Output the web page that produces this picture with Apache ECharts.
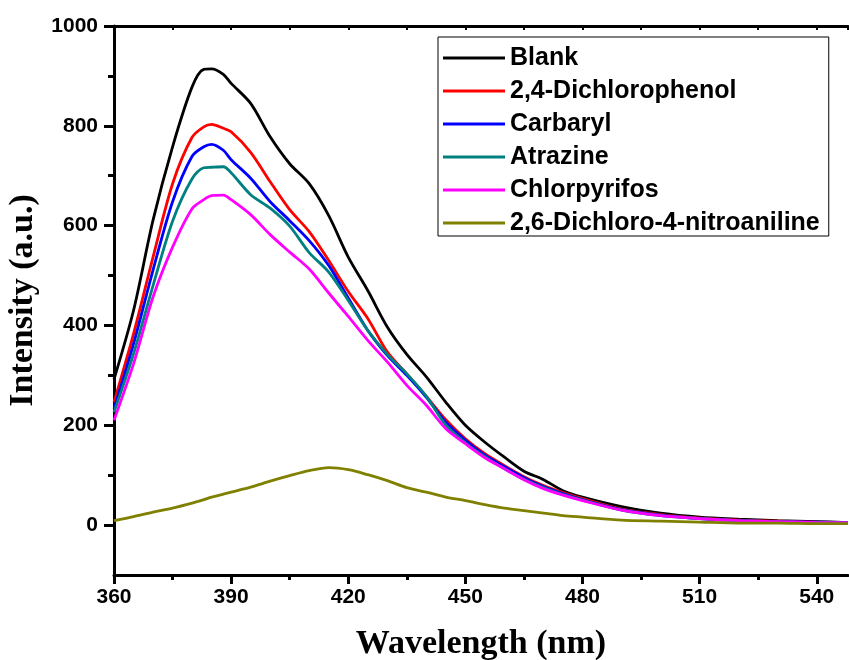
<!DOCTYPE html>
<html><head><meta charset="utf-8">
<script src="https://cdn.jsdelivr.net/npm/echarts@6/dist/echarts.min.js"></script>
<style>html,body{margin:0;padding:0;background:#fff}#c{width:849px;height:660px}</style>
</head><body><div id="c"></div>
<script>
const wavelength = [360,365,370,375,380,383,385,388,390,395,400,405,410,415,420,425,430,435,440,445,450,455,460,465,470,475,480,490,500,510,520,530,540,548];
const blank = [292,430,611,758,878,913,914,903,885,845,778,724,684,620,537,470,397,342,297,246,200,166,136,108,91,69,56,37,24,16,12,9,7,5];
const dichlorophenol = [246,383,537,684,777,798,803,795,788,747,688,632,588,530,468,414,347,303,258,211,173,143,119,97,79,65,53,32,21,14,10,8,6,5];
const carbaryl = [233,363,511,648,739,758,763,751,732,695,648,610,570,520,455,390,340,300,256,206,170,140,117,95,77,63,51,31,20,13,9,7,6,5];
const atrazine = [226,343,480,609,694,716,717,718,706,662,635,599,546,507,450,390,342,303,258,200,165,137,113,92,75,61,50,30,19,13,9,7,5,5];
const chlorpyrifos = [210,323,457,557,634,652,660,661,652,622,582,547,513,465,418,370,327,280,240,193,163,135,113,91,73,60,49,30,19,13,9,7,5,5];
const nitroaniline = [9,17,26,34,44,51,56,62,66,76,88,99,109,115,111,101,89,75,66,56,49,41,34,29,24,19,16,10,8,6,4,4,3,3];

const seriesNames = ['Blank','2,4-Dichlorophenol','Carbaryl','Atrazine','Chlorpyrifos','2,6-Dichloro-4-nitroaniline'];
const seriesValues = [blank, dichlorophenol, carbaryl, atrazine, chlorpyrifos, nitroaniline];
const seriesColors = ['#000000','#ff0000','#0000ff','#008080','#ff00ff','#808000'];

const xMajorTicks = [360,390,420,450,480,510,540];
const xMinorTicks = [375,405,435,465,495,525];
const yMajorTicks = [0,200,400,600,800,1000];
const yMinorTicks = [100,300,500,700,900];

const tickFont = {fontFamily:'Liberation Sans, Arial, sans-serif', fontWeight:'bold', fontSize:21, color:'#000'};
const titleFont = {fontFamily:'Liberation Serif, Times New Roman, serif', fontWeight:'bold', fontSize:34, color:'#000'};
const blackLine = {color:'#000', width:3};
const plain = v => String(v);

const chart = echarts.init(document.getElementById('c'), null, {renderer:'canvas'});
chart.setOption({
  animation:false,
  backgroundColor:'#fff',
  grid:{left:114, right:1, top:26, bottom:85, containLabel:false, outerBoundsMode:'none'},
  legend:{
    orient:'vertical', left:438, top:37,
    icon:'rect', itemWidth:62, itemHeight:3, itemGap:7,
    padding:[8,9,0,5],
    backgroundColor:'#fff', borderColor:'#000', borderWidth:1, borderRadius:0,
    textStyle:{fontFamily:'Liberation Sans, Arial, sans-serif', fontWeight:'bold', fontSize:25, color:'#000', lineHeight:26},
    data:seriesNames
  },
  xAxis:[
    {type:'value', position:'bottom', min:360, max:548, interval:30,
     name:'Wavelength (nm)', nameLocation:'middle', nameGap:52, nameTextStyle:titleFont,
     axisLine:{show:true, onZero:false, lineStyle:blackLine},
     axisTick:{show:true, customValues:xMajorTicks, length:9, lineStyle:blackLine},
     axisLabel:{show:true, customValues:xMajorTicks, margin:12, formatter:plain, ...tickFont},
     splitLine:{show:false}},
    {type:'value', position:'top', min:360, max:548, interval:15,
     axisLine:{show:true, onZero:false, lineStyle:blackLine},
     axisTick:{show:true, inside:true, length:4, lineStyle:{color:'#000', width:2}},
     axisLabel:{show:false}, splitLine:{show:false}},
    {type:'value', position:'bottom', min:360, max:548, interval:30,
     axisLine:{show:false, onZero:false},
     axisTick:{show:true, customValues:xMinorTicks, length:5, lineStyle:blackLine},
     axisLabel:{show:false}, splitLine:{show:false}}
  ],
  yAxis:[
    {type:'value', position:'left', min:-100, max:1000, interval:100,
     name:'Intensity (a.u.)', nameLocation:'middle', nameGap:49, nameRotate:90, nameTextStyle:titleFont,
     axisLine:{show:true, onZero:false, lineStyle:blackLine},
     axisTick:{show:true, customValues:yMajorTicks, length:10, lineStyle:blackLine},
     axisLabel:{show:true, customValues:yMajorTicks, margin:16, formatter:plain, ...tickFont},
     splitLine:{show:false}},
    {type:'value', position:'left', min:-100, max:1000, interval:100,
     axisLine:{show:false, onZero:false},
     axisTick:{show:true, customValues:yMinorTicks, length:6, lineStyle:blackLine},
     axisLabel:{show:false}, splitLine:{show:false}}
  ],
  series: seriesNames.map((n,k)=>({
    name:n, type:'line', xAxisIndex:0, yAxisIndex:0,
    data: wavelength.map((w,i)=>[w, seriesValues[k][i]]),
    symbol:'none', smooth:0.3,
    lineStyle:{color:seriesColors[k], width:2.8},
    itemStyle:{color:seriesColors[k]},
    z: 2 + k
  }))
});
</script></body></html>
